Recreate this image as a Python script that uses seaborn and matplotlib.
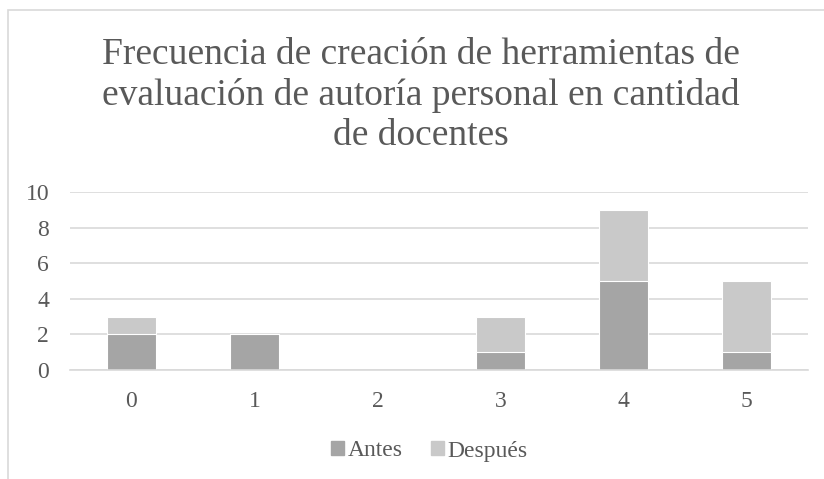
import numpy as np
import pandas as pd
import matplotlib
matplotlib.use("Agg")
import matplotlib.pyplot as plt
from matplotlib.patches import Rectangle, Patch
import seaborn as sns

categorias = ["0", "1", "2", "3", "4", "5"]
antes = [2, 2, 0, 1, 5, 1]
despues = [1, 0, 0, 2, 4, 4]

df = pd.DataFrame({"cat": categorias, "Antes": antes, "Después": despues})
df["total"] = df["Antes"] + df["Después"]

sns.set_style("white")
plt.rcParams["font.family"] = ["Liberation Serif", "DejaVu Serif"]

c_antes = "#A5A5A5"
c_desp = "#C9C9C9"
txt = "#595959"

fig = plt.figure(figsize=(8.24, 4.79), dpi=100)
ax = fig.add_axes([70 / 824, 1 - 370 / 479, 738 / 824, 178 / 479])

sns.barplot(data=df, x="cat", y="total", color=c_desp, width=0.4, ax=ax,
            saturation=1, edgecolor="white", linewidth=0.8)
sns.barplot(data=df, x="cat", y="Antes", color=c_antes, width=0.4, ax=ax,
            saturation=1, edgecolor="white", linewidth=0.8)

ax.set_ylim(0, 10)
ax.set_yticks([0, 2, 4, 6, 8, 10])
ax.grid(axis="y", color="#D9D9D9", linewidth=1.2)
ax.set_axisbelow(True)
for s in ["top", "right", "left"]:
    ax.spines[s].set_visible(False)
ax.spines["bottom"].set_color("#D9D9D9")
ax.spines["bottom"].set_linewidth(1.2)
ax.set_xlabel("")
ax.set_ylabel("")
ax.tick_params(axis="both", length=0, labelsize=17, colors=txt)
ax.tick_params(axis="x", pad=15)
ax.tick_params(axis="y", pad=15)

fig.text(421 / 824, 1 - 38 / 479,
         "Frecuencia de creación de herramientas de\nevaluación de autoría personal en cantidad\nde docentes",
         ha="center", va="top", fontsize=27, color=txt, linespacing=1.2)

handles = [Patch(color=c_antes, label="Antes"), Patch(color=c_desp, label="Después")]
fig.legend(handles=handles, loc="center", bbox_to_anchor=(429 / 824, 1 - 451 / 479), ncol=2,
           frameon=False, fontsize=17, handlelength=0.55, handleheight=0.55,
           handletextpad=0.15, columnspacing=1.2, labelcolor=txt)

fig.patches.append(Rectangle((8 / 824, -0.1), 1.2, 1 - 10 / 479 + 0.1,
                             transform=fig.transFigure, fill=False,
                             edgecolor="#D9D9D9", linewidth=1.2))

fig.savefig("out.png", dpi=100)
